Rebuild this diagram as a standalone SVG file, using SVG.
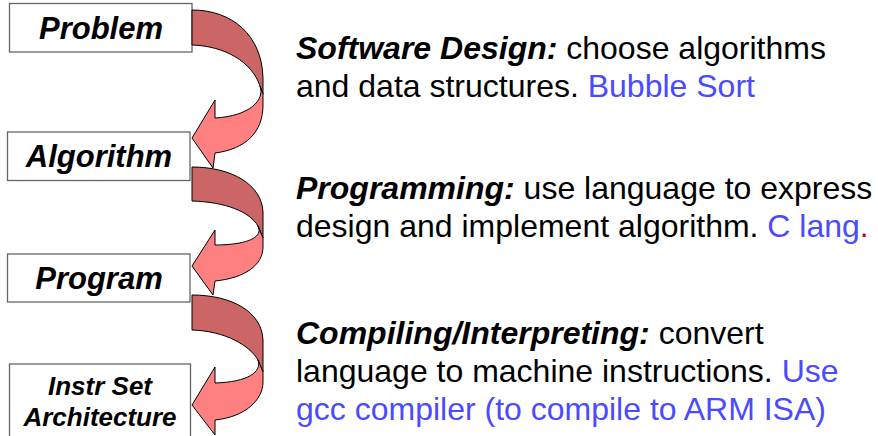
<svg xmlns="http://www.w3.org/2000/svg" width="878" height="436" viewBox="0 0 878 436">
<style>
.box{fill:#fff;stroke:#666;stroke-width:1.3}
.lbl{font-family:"Liberation Sans",Arial,sans-serif;font-weight:bold;font-style:italic;fill:#000;text-anchor:middle}
.dark{fill:#CC6666;stroke:#000;stroke-width:1;stroke-linejoin:round}
.light{fill:#FF8080;stroke:#000;stroke-width:1;stroke-linejoin:round}
.desc{font-family:"Liberation Sans",Arial,sans-serif;font-size:32px;fill:#000}
.b{font-weight:bold;font-style:italic}
.blue{fill:#4A4AFF}
.red{fill:#CC0000}
</style>
<rect width="878" height="436" fill="#fff"/>
<g id="node-problem">
<rect class="box" x="9.5" y="3.5" width="182.5" height="48.5"/>
<text class="lbl" x="101" y="39" font-size="31">Problem</text>
</g>
<g id="node-algorithm">
<rect class="box" x="7.5" y="132" width="182.5" height="48.5"/>
<text class="lbl" x="99" y="167" font-size="31">Algorithm</text>
</g>
<g id="node-program">
<rect class="box" x="7.5" y="254" width="182.5" height="48"/>
<text class="lbl" x="99" y="289" font-size="31">Program</text>
</g>
<g id="node-isa">
<rect class="box" x="9.5" y="364" width="181" height="80"/>
<text class="lbl" x="100" y="395" font-size="26">Instr Set</text>
<text class="lbl" x="100" y="426" font-size="26">Architecture</text>
</g>
<g id="connectors">
<g id="arrow-1">
<path class="dark" d="M192,10 C232,10 262,35 263,78 L263,94 L260,86 C252,62 225,46 192,45 Z"/>
<path class="light" d="M260,86 C265,100 250,116 215,118 L215,100 L192,138 L213,168 L215,153 C246,149 263,132 263,105 L263,94 Z"/>
</g>
<g id="arrow-2">
<path class="dark" d="M192,167 C232,167 262,185 263,212 L263,238 L258,226 C250,212 226,202 192,201 Z"/>
<path class="light" d="M258,226 C264,238 245,245 215,245 L215,230 L192,266 L213,295 L215,281 C245,278 263,265 263,247 L263,238 Z"/>
</g>
<g id="arrow-3">
<path class="dark" d="M192,295 C232,295 262,312 263,340 L263,372 L258,360 C250,346 226,331 192,330 Z"/>
<path class="light" d="M258,360 C262,372 248,382 215,383 L215,367 L192,405 L215,435 L215,420 C245,417 263,400 263,382 L263,372 Z"/>
</g>
</g>
<g id="desc-design">
<text class="desc" x="296" y="59"><tspan class="b">Software Design:</tspan> choose algorithms</text>
<text class="desc" x="296" y="97">and data structures. <tspan class="blue">Bubble Sort</tspan></text>
</g>
<g id="desc-programming">
<text class="desc" x="296" y="199"><tspan class="b">Programming:</tspan> use language to express</text>
<text class="desc" x="296" y="237">design and implement algorithm. <tspan class="blue">C lang</tspan><tspan class="red">.</tspan></text>
</g>
<g id="desc-compiling">
<text class="desc" x="296" y="344"><tspan class="b">Compiling/Interpreting:</tspan> convert</text>
<text class="desc" x="296" y="382">language to machine instructions. <tspan class="blue">Use</tspan></text>
<text class="desc" x="296" y="420"><tspan class="blue">gcc compiler (to compile to ARM ISA)</tspan></text>
</g>
</svg>
